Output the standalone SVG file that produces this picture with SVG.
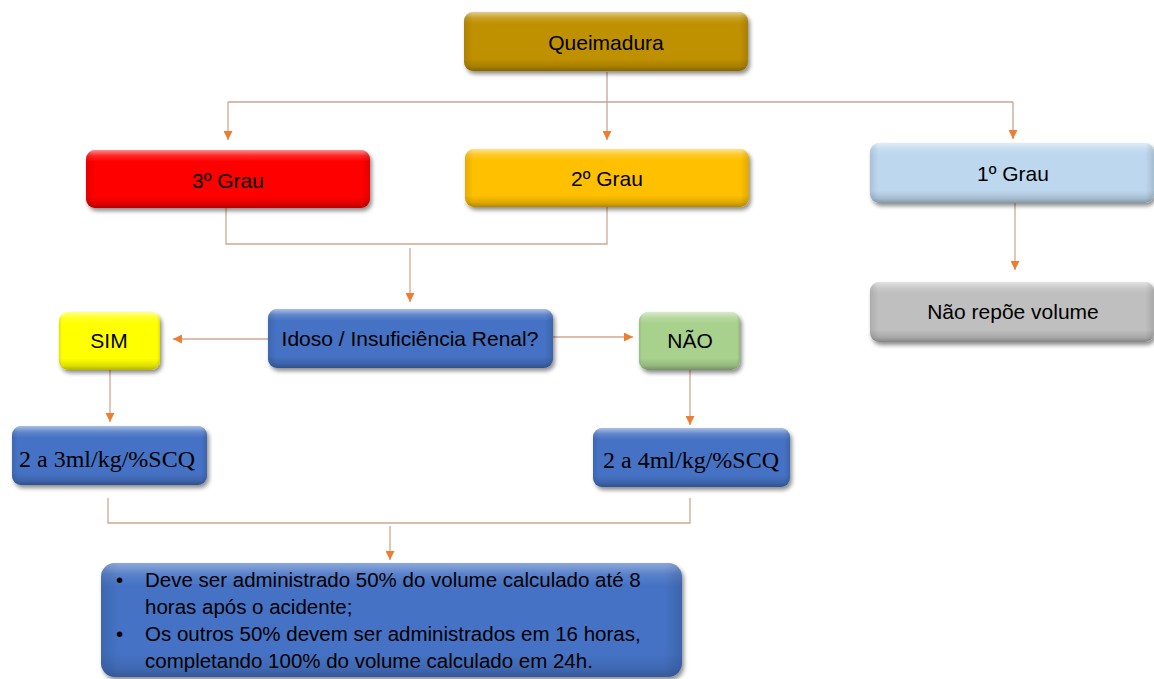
<svg xmlns="http://www.w3.org/2000/svg" width="1154" height="679" viewBox="0 0 1154 679">
  <defs>
    <style>
      .lbl { font-family: "Liberation Sans", Arial, sans-serif; font-size: 21px; fill: #000; text-anchor: middle; }
      .dose { font-family: "Liberation Serif", "Times New Roman", serif; font-size: 24px; fill: #000; text-anchor: middle; }
      .note { font-family: "Liberation Sans", Arial, sans-serif; font-size: 20.5px; fill: #000; }
      .wire { fill: none; stroke: #D4A690; stroke-width: 1.3; }
      .wire-tan { fill: none; stroke: #C4A595; stroke-width: 1.3; }
      .arrow { marker-end: url(#tip); }
      .bevel-v { fill: url(#bevelV); }
      .bevel-h { fill: url(#bevelH); }
    </style>
    <marker id="tip" viewBox="0 0 10 10" refX="10" refY="5" markerWidth="9" markerHeight="9" markerUnits="userSpaceOnUse" orient="auto">
      <path d="M0 0 L10 5 L0 10 z" fill="#ED7D31"/>
    </marker>
    <filter id="shadow" x="-10%" y="-20%" width="120%" height="150%">
      <feDropShadow dx="2" dy="3" stdDeviation="2" flood-color="#000" flood-opacity="0.45"/>
    </filter>
    <!-- soft bevel: light top edge, darker bottom edge -->
    <linearGradient id="bevelV" x1="0" y1="0" x2="0" y2="1">
      <stop offset="0" stop-color="#fff" stop-opacity="0.55"/>
      <stop offset="0.1" stop-color="#fff" stop-opacity="0.15"/>
      <stop offset="0.2" stop-color="#fff" stop-opacity="0"/>
      <stop offset="0.8" stop-color="#000" stop-opacity="0"/>
      <stop offset="0.92" stop-color="#000" stop-opacity="0.12"/>
      <stop offset="1" stop-color="#000" stop-opacity="0.3"/>
    </linearGradient>
    <linearGradient id="bevelH" x1="0" y1="0" x2="1" y2="0">
      <stop offset="0" stop-color="#000" stop-opacity="0.1"/>
      <stop offset="0.03" stop-color="#000" stop-opacity="0"/>
      <stop offset="0.97" stop-color="#000" stop-opacity="0"/>
      <stop offset="1" stop-color="#000" stop-opacity="0.12"/>
    </linearGradient>
  </defs>

  <rect width="1154" height="679" fill="#fff"/>

  <!-- connectors -->
  <g id="connectors">
    <path class="wire-tan arrow" d="M607 72 V140"/>
    <path class="wire-tan" d="M228 102 H1013"/>
    <path class="wire arrow" d="M228 102 V140"/>
    <path class="wire-tan arrow" d="M1013 102 V139"/>
    <path class="wire" d="M226 208 V244 H607 V207"/>
    <path class="wire arrow" d="M410 248 V302"/>
    <path class="wire arrow" d="M268 339 H173"/>
    <path class="wire arrow" d="M553 337 H633"/>
    <path class="wire arrow" d="M110 370 V422"/>
    <path class="wire arrow" d="M690 370 V425"/>
    <path class="wire arrow" d="M1015 203 V270"/>
    <path class="wire" d="M108 498 V523 H690 V498"/>
    <path class="wire arrow" d="M390 526 V560"/>
  </g>

  <g id="queimadura">
    <rect x="464" y="12" width="284" height="59" rx="9" fill="#BF9000" filter="url(#shadow)"/>
    <rect class="bevel-v" x="464" y="12" width="284" height="59" rx="9"/>
    <rect class="bevel-h" x="464" y="12" width="284" height="59" rx="9"/>
    <text class="lbl" x="606" y="50">Queimadura</text>
  </g>

  <g id="grau3">
    <rect x="86" y="150" width="284" height="58" rx="9" fill="#FF0000" filter="url(#shadow)"/>
    <rect class="bevel-v" x="86" y="150" width="284" height="58" rx="9"/>
    <rect class="bevel-h" x="86" y="150" width="284" height="58" rx="9"/>
    <text class="lbl" x="228" y="188">3º Grau</text>
  </g>

  <g id="grau2">
    <rect x="465" y="149" width="284" height="58" rx="9" fill="#FFC000" filter="url(#shadow)"/>
    <rect class="bevel-v" x="465" y="149" width="284" height="58" rx="9"/>
    <rect class="bevel-h" x="465" y="149" width="284" height="58" rx="9"/>
    <text class="lbl" x="607" y="186">2º Grau</text>
  </g>

  <g id="grau1">
    <rect x="870" y="143" width="284" height="60" rx="9" fill="#BDD7EE" filter="url(#shadow)"/>
    <rect class="bevel-v" x="870" y="143" width="284" height="60" rx="9"/>
    <rect class="bevel-h" x="870" y="143" width="284" height="60" rx="9"/>
    <text class="lbl" x="1013" y="181">1º Grau</text>
  </g>

  <g id="nao-repoe">
    <rect x="870" y="282" width="284" height="60" rx="9" fill="#BFBFBF" filter="url(#shadow)"/>
    <rect class="bevel-v" x="870" y="282" width="284" height="60" rx="9"/>
    <rect class="bevel-h" x="870" y="282" width="284" height="60" rx="9"/>
    <text class="lbl" x="1013" y="319">Não repõe volume</text>
  </g>

  <g id="idoso">
    <rect x="268" y="309" width="285" height="59" rx="9" fill="#4472C4" filter="url(#shadow)"/>
    <rect class="bevel-v" x="268" y="309" width="285" height="59" rx="9"/>
    <rect class="bevel-h" x="268" y="309" width="285" height="59" rx="9"/>
    <text class="lbl" x="410" y="346">Idoso / Insuficiência Renal?</text>
  </g>

  <g id="sim">
    <rect x="59" y="312" width="101" height="58" rx="9" fill="#FFFF00" filter="url(#shadow)"/>
    <rect class="bevel-v" x="59" y="312" width="101" height="58" rx="9"/>
    <rect class="bevel-h" x="59" y="312" width="101" height="58" rx="9"/>
    <text class="lbl" x="109" y="348">SIM</text>
  </g>

  <g id="nao">
    <rect x="639" y="312" width="101" height="58" rx="9" fill="#A9D18E" filter="url(#shadow)"/>
    <rect class="bevel-v" x="639" y="312" width="101" height="58" rx="9"/>
    <rect class="bevel-h" x="639" y="312" width="101" height="58" rx="9"/>
    <text class="lbl" x="690" y="348">NÃO</text>
  </g>

  <g id="dose-sim">
    <rect x="12" y="426" width="195" height="59" rx="9" fill="#4472C4" filter="url(#shadow)"/>
    <rect class="bevel-v" x="12" y="426" width="195" height="59" rx="9"/>
    <rect class="bevel-h" x="12" y="426" width="195" height="59" rx="9"/>
    <text class="dose" x="107" y="467">2 a 3ml/kg/%SCQ</text>
  </g>

  <g id="dose-nao">
    <rect x="593" y="428" width="197" height="59" rx="9" fill="#4472C4" filter="url(#shadow)"/>
    <rect class="bevel-v" x="593" y="428" width="197" height="59" rx="9"/>
    <rect class="bevel-h" x="593" y="428" width="197" height="59" rx="9"/>
    <text class="dose" x="691" y="468">2 a 4ml/kg/%SCQ</text>
  </g>

  <g id="administracao">
    <rect x="101" y="563" width="581" height="114" rx="14" fill="#4472C4" filter="url(#shadow)"/>
    <rect class="bevel-v" x="101" y="563" width="581" height="114" rx="14" opacity="0.7"/>
    <rect class="bevel-h" x="101" y="563" width="581" height="114" rx="14"/>
    <text class="note" x="116" y="587">•</text>
    <text class="note" x="145" y="587">Deve ser administrado 50% do volume calculado até 8</text>
    <text class="note" x="145" y="614">horas após o acidente;</text>
    <text class="note" x="116" y="641">•</text>
    <text class="note" x="145" y="641">Os outros 50% devem ser administrados em 16 horas,</text>
    <text class="note" x="145" y="668">completando 100% do volume calculado em 24h.</text>
  </g>
</svg>
